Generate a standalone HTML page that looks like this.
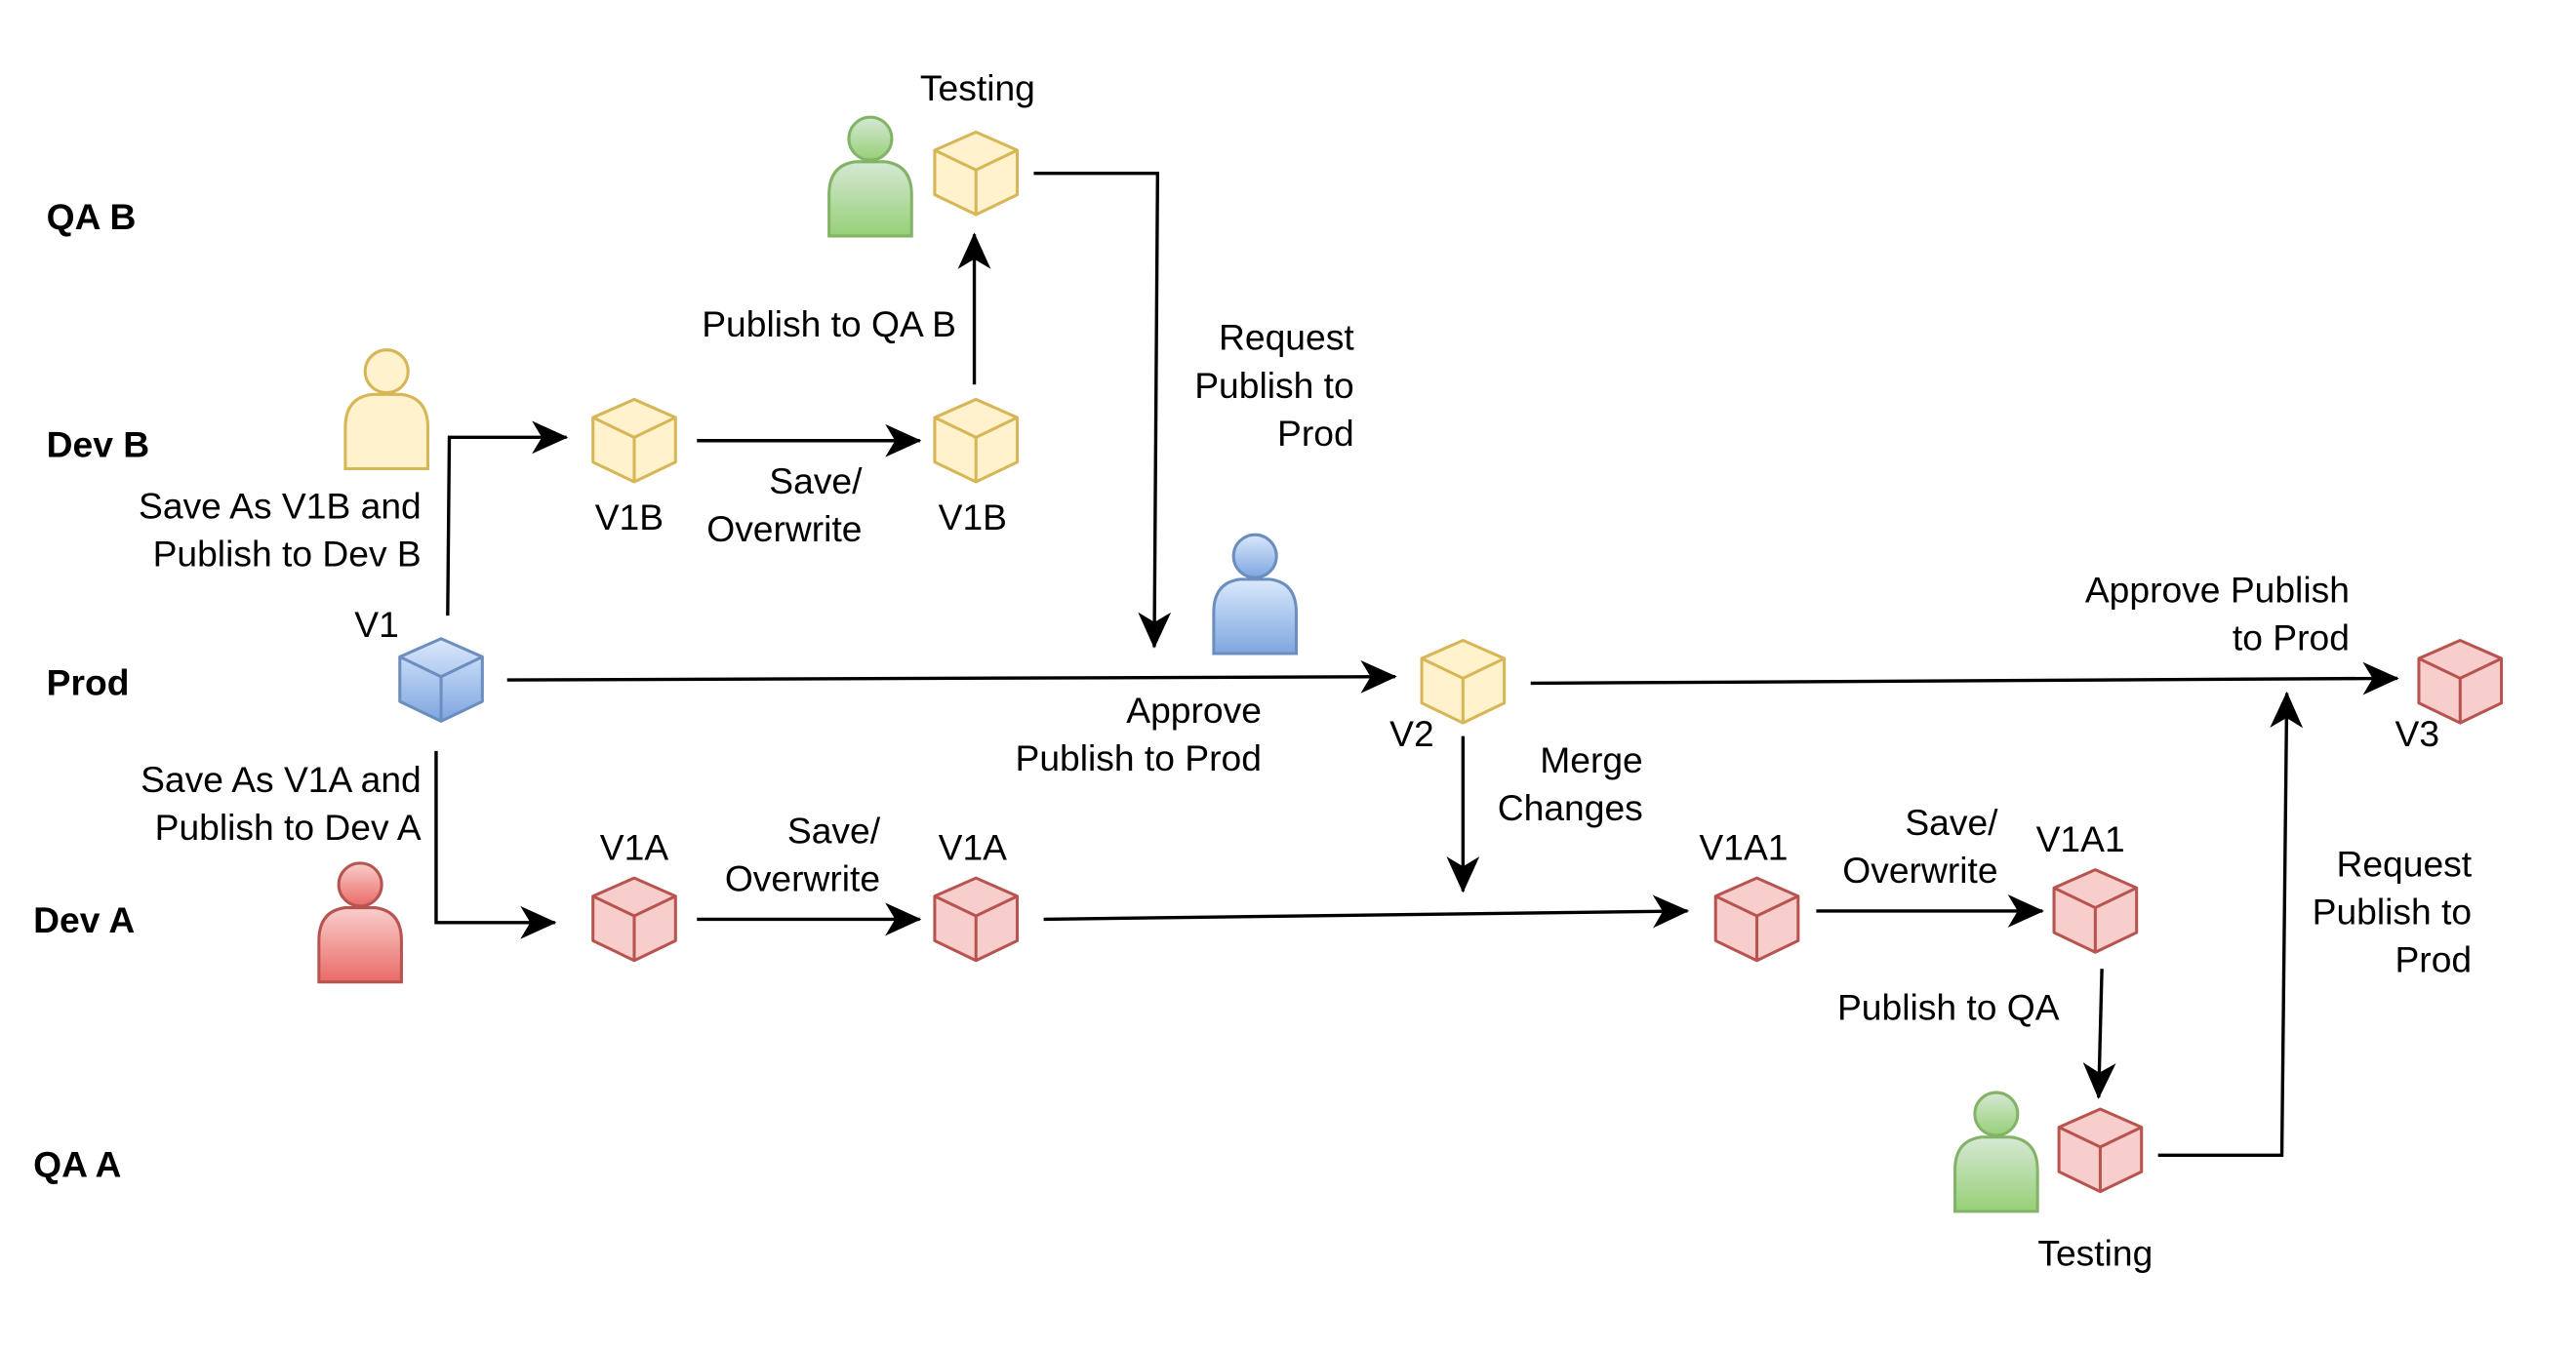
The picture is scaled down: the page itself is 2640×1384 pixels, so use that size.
<!DOCTYPE html>
<html><head><meta charset="utf-8"><style>
html,body{margin:0;padding:0;background:#fff;}
svg{display:block;}
text{font-family:"Liberation Sans",Helvetica,Arial,sans-serif;font-size:22px;fill:#000;}
.b{font-weight:bold;}
</style></head><body>
<svg width="2640" height="1384" viewBox="0 0 1560 818" xmlns="http://www.w3.org/2000/svg">
<defs>
<linearGradient id="gb" x1="0" y1="0" x2="0" y2="1"><stop offset="0" stop-color="#dae8fc"/><stop offset="1" stop-color="#7ea6e0"/></linearGradient>
<linearGradient id="gg" x1="0" y1="0" x2="0" y2="1"><stop offset="0" stop-color="#d5e8d4"/><stop offset="1" stop-color="#97d077"/></linearGradient>
<linearGradient id="gr" x1="0" y1="0" x2="0" y2="1"><stop offset="0" stop-color="#f8cecc"/><stop offset="1" stop-color="#ea6b66"/></linearGradient>
<marker id="ar" markerWidth="24" markerHeight="20" refX="21" refY="10" orient="auto" markerUnits="userSpaceOnUse">
<path d="M0,0 L22,10 L0,20 L6,10 Z" fill="#000"/></marker>
</defs>

<text class="b" x="28" y="139">QA B</text>
<text class="b" x="28" y="277">Dev B</text>
<text class="b" x="28" y="421">Prod</text>
<text class="b" x="20" y="565">Dev A</text>
<text class="b" x="20" y="713">QA A</text>

<g fill="none" stroke="#000" stroke-width="2">
<polyline points="271,373 272,265 343,265" marker-end="url(#ar)"/>
<line x1="422" y1="267" x2="557" y2="267" marker-end="url(#ar)"/>
<line x1="590" y1="233" x2="590" y2="142" marker-end="url(#ar)"/>
<polyline points="626,105 701,105 699,392" marker-end="url(#ar)"/>
<line x1="307" y1="412" x2="845" y2="410" marker-end="url(#ar)"/>
<line x1="927" y1="414" x2="1452" y2="411" marker-end="url(#ar)"/>
<line x1="886" y1="446" x2="886" y2="540" marker-end="url(#ar)"/>
<polyline points="264,455 264,559 336,559" marker-end="url(#ar)"/>
<line x1="422" y1="557" x2="557" y2="557" marker-end="url(#ar)"/>
<line x1="632" y1="557" x2="1022" y2="552" marker-end="url(#ar)"/>
<line x1="1100" y1="552" x2="1237" y2="552" marker-end="url(#ar)"/>
<line x1="1273" y1="587" x2="1271" y2="665" marker-end="url(#ar)"/>
<polyline points="1307,700 1382,700 1385,420" marker-end="url(#ar)"/>
</g>

<defs>
<g id="cube">
<path d="M0,-25 L25,-14 L25,13 L0,25 L-25,13 L-25,-14 Z"/>
<path d="M-25,-14 L0,-2 L25,-14 M0,-2 L0,25" fill="none"/>
</g>
</defs>
<g fill="#fff2cc" stroke="#d6b656" stroke-width="1.8" stroke-linejoin="round">
<use href="#cube" x="591" y="105"/>
<use href="#cube" x="384" y="267"/>
<use href="#cube" x="591" y="267"/>
<use href="#cube" x="886" y="413"/>
</g>
<g fill="url(#gb)" stroke="#6c8ebf" stroke-width="1.8" stroke-linejoin="round">
<use href="#cube" x="267" y="412"/>
</g>
<g fill="#f8cecc" stroke="#b85450" stroke-width="1.8" stroke-linejoin="round">
<use href="#cube" x="1490" y="413"/>
<use href="#cube" x="384" y="557"/>
<use href="#cube" x="591" y="557"/>
<use href="#cube" x="1064" y="557"/>
<use href="#cube" x="1269" y="552"/>
<use href="#cube" x="1272" y="697"/>
</g>

<g stroke-width="1.8">
<g fill="url(#gg)" stroke="#82b366">
<path d="M502,143 L502,118 Q502,100 518,98 L536,98 Q552,100 552,118 L552,143 Z"/>
<circle cx="527" cy="84" r="13"/>
<path d="M1184,734 L1184,709 Q1184,691 1200,689 L1218,689 Q1234,691 1234,709 L1234,734 Z"/>
<circle cx="1209" cy="675" r="13"/>
</g>
<g fill="#fff2cc" stroke="#d6b656">
<path d="M209,284 L209,259 Q209,241 225,239 L243,239 Q259,241 259,259 L259,284 Z"/>
<circle cx="234" cy="225" r="13"/>
</g>
<g fill="url(#gb)" stroke="#6c8ebf">
<path d="M735,396 L735,371 Q735,353 751,351 L769,351 Q785,353 785,371 L785,396 Z"/>
<circle cx="760" cy="337" r="13"/>
</g>
<g fill="url(#gr)" stroke="#b85450">
<path d="M193,595 L193,570 Q193,552 209,550 L227,550 Q243,552 243,570 L243,595 Z"/>
<circle cx="218" cy="536" r="13"/>
</g>
</g>

<text x="592" y="61" text-anchor="middle">Testing</text>
<text x="579" y="204" text-anchor="end">Publish to QA B</text>
<text x="820" y="212" text-anchor="end">Request</text>
<text x="820" y="241" text-anchor="end">Publish to</text>
<text x="820" y="270" text-anchor="end">Prod</text>
<text x="255" y="314" text-anchor="end">Save As V1B and</text>
<text x="255" y="343" text-anchor="end">Publish to Dev B</text>
<text x="381" y="321" text-anchor="middle">V1B</text>
<text x="522" y="299" text-anchor="end">Save/</text>
<text x="522" y="328" text-anchor="end">Overwrite</text>
<text x="589" y="321" text-anchor="middle">V1B</text>
<text x="228" y="386" text-anchor="middle">V1</text>
<text x="764" y="438" text-anchor="end">Approve</text>
<text x="764" y="467" text-anchor="end">Publish to Prod</text>
<text x="855" y="452" text-anchor="middle">V2</text>
<text x="995" y="468" text-anchor="end">Merge</text>
<text x="995" y="497" text-anchor="end">Changes</text>
<text x="1423" y="365" text-anchor="end">Approve Publish</text>
<text x="1423" y="394" text-anchor="end">to Prod</text>
<text x="1464" y="452" text-anchor="middle">V3</text>
<text x="255" y="480" text-anchor="end">Save As V1A and</text>
<text x="255" y="509" text-anchor="end">Publish to Dev A</text>
<text x="384" y="521" text-anchor="middle">V1A</text>
<text x="533" y="511" text-anchor="end">Save/</text>
<text x="533" y="540" text-anchor="end">Overwrite</text>
<text x="589" y="521" text-anchor="middle">V1A</text>
<text x="1056" y="521" text-anchor="middle">V1A1</text>
<text x="1210" y="506" text-anchor="end">Save/</text>
<text x="1210" y="535" text-anchor="end">Overwrite</text>
<text x="1260" y="516" text-anchor="middle">V1A1</text>
<text x="1180" y="618" text-anchor="middle">Publish to QA</text>
<text x="1497" y="531" text-anchor="end">Request</text>
<text x="1497" y="560" text-anchor="end">Publish to</text>
<text x="1497" y="589" text-anchor="end">Prod</text>
<text x="1269" y="767" text-anchor="middle">Testing</text>
</svg>
</body></html>
